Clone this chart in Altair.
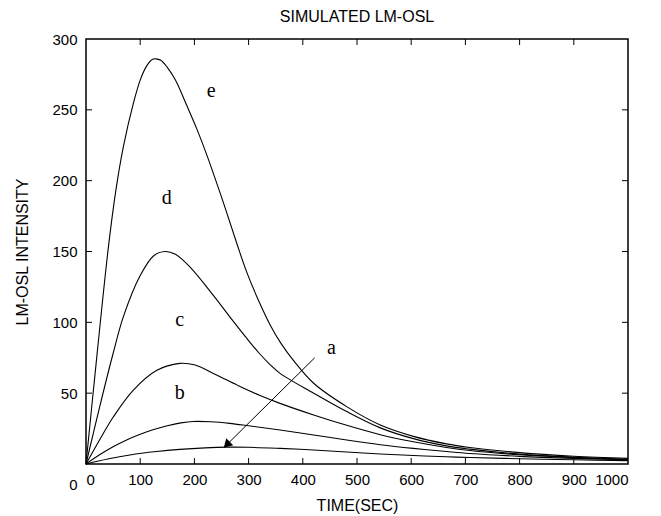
import altair as alt
import pandas as pd

# ---- data ----
e_t = [0, 20, 41, 55, 69, 87, 100, 112, 122, 129, 138, 150, 165, 186, 205, 223, 253, 278, 296, 320, 340, 360, 383, 420, 481, 543, 604, 665, 708, 800, 900, 1000]
e_y = [0, 76, 152, 193, 224, 254, 271, 281, 285.5, 286, 285, 280, 271, 253, 236, 218, 185, 156, 136, 114, 98, 85, 73, 57, 40.5, 27.5, 19.5, 14.2, 11.7, 8, 5.5, 4]

d_t = [0, 25, 50, 69, 100, 125, 146, 165, 192, 235, 265, 296, 320, 340, 358, 420, 481, 543, 604, 665, 708, 800, 900, 1000]
d_y = [0, 40, 78, 104, 133, 147, 150, 148, 139, 119, 104, 89, 78, 70, 64, 50, 37, 25.5, 17.9, 12.8, 10.5, 7, 4.8, 3.3]

c_t = [0, 25, 50, 87, 130, 173, 200, 240, 280, 320, 358, 420, 481, 543, 604, 665, 708, 800, 900, 1000]
c_y = [0, 17, 33, 52, 66, 71, 70, 63, 55.5, 48.5, 42.8, 34.6, 27.3, 20.7, 15.7, 11.7, 9.5, 6.5, 4.5, 3.2]

b_t = [0, 25, 50, 75, 100, 125, 150, 175, 198, 230, 265, 300, 358, 420, 481, 543, 604, 665, 708, 800, 900, 1000]
b_y = [0, 6.5, 12.2, 17, 21, 24.3, 27, 29, 30, 29.8, 28.7, 27, 24, 20.5, 16.9, 13.6, 11, 8.8, 7.4, 5.4, 4, 3]

a_t = [0, 40, 81, 130, 173, 220, 260, 300, 358, 420, 481, 543, 604, 665, 708, 800, 900, 1000]
a_y = [0, 3.5, 6.4, 8.8, 10.3, 11.4, 11.9, 11.8, 11, 9.9, 8.5, 7.1, 6, 5.1, 4.6, 3.7, 3, 2.4]

curve_names = ["a", "b", "c", "d", "e"]
label_x = [453, 173, 173, 149, 231]
label_y = [81.6, 50, 102, 188, 263]

arrow_from = (422, 75)
arrow_to = (256, 12.2)
arrow_head = (261.5, 14.3)

x_ticks = [100, 200, 300, 400, 500, 600, 700, 800, 900]
y_ticks = [50, 100, 150, 200, 250]
x_labels = list(range(0, 1001, 100))
y_labels = list(range(0, 301, 50))

# ---- tables ----
rows = []
for name, ts, ys in [("a", a_t, a_y), ("b", b_t, b_y), ("c", c_t, c_y), ("d", d_t, d_y), ("e", e_t, e_y)]:
    for t, y in zip(ts, ys):
        rows.append({"curve": name, "t": t, "y": y})
df = pd.DataFrame(rows)
labels = pd.DataFrame({"name": curve_names, "t": label_x, "y": label_y})
arrow = pd.DataFrame({"t": [arrow_from[0]], "y": [arrow_from[1]], "t2": [arrow_to[0]], "y2": [arrow_to[1]]})
head = pd.DataFrame({"t": [arrow_head[0]], "y": [arrow_head[1]]})
xt = pd.DataFrame({"t": x_ticks})
yt = pd.DataFrame({"y": y_ticks})

W, H = 542, 425
FONT = "Liberation Sans"

xscale = alt.Scale(domain=[0, 1000], nice=False, zero=False)
yscale = alt.Scale(domain=[0, 300], nice=False, zero=False)

xaxis = alt.Axis(title="TIME(SEC)", values=x_labels, ticks=False, format="d",
                 labelPadding=8, titlePadding=10, grid=False, domain=False)
yaxis = alt.Axis(title="LM-OSL INTENSITY", values=y_labels, ticks=False, format="d",
                 labelPadding=9, titlePadding=21, grid=False, domain=False,
                 labelOffset=alt.condition("datum.value == 0", alt.value(20), alt.value(0)))


def X(field):
    return alt.X(field, scale=xscale, axis=xaxis, title="TIME(SEC)")


def Y(field):
    return alt.Y(field, scale=yscale, axis=yaxis, title="LM-OSL INTENSITY")


lines = alt.Chart(df).mark_line(color="black", strokeWidth=1.1, interpolate="catmull-rom").encode(
    x=X("t:Q"), y=Y("y:Q"), detail="curve:N",
)

texts = alt.Chart(labels).mark_text(font="Liberation Serif", fontSize=20, color="black").encode(
    x=X("t:Q"), y=Y("y:Q"), text="name:N",
)

arrow_line = alt.Chart(arrow).mark_rule(color="black", strokeWidth=1).encode(
    x=X("t:Q"), y=Y("y:Q"), x2="t2:Q", y2="y2:Q",
)
arrow_tip = alt.Chart(head).mark_point(shape="triangle", filled=True, color="black", size=95,
                                        angle=225, opacity=1).encode(
    x=X("t:Q"), y=Y("y:Q"),
)

tick_b = alt.Chart(xt).mark_rule(color="black").encode(
    x=X("t:Q"), y=alt.value(H), y2=alt.value(H - 6))
tick_t = alt.Chart(xt).mark_rule(color="black").encode(
    x=X("t:Q"), y=alt.value(0), y2=alt.value(6))
tick_l = alt.Chart(yt).mark_rule(color="black").encode(
    y=Y("y:Q"), x=alt.value(0), x2=alt.value(6))
tick_r = alt.Chart(yt).mark_rule(color="black").encode(
    y=Y("y:Q"), x=alt.value(W), x2=alt.value(W - 6))

chart = alt.layer(lines, texts, arrow_line, arrow_tip, tick_b, tick_t, tick_l, tick_r).properties(
    width=W, height=H,
    title=alt.Title("SIMULATED LM-OSL", font=FONT, fontSize=16, fontWeight="normal", color="black", offset=7),
    autosize=alt.AutoSizeParams(type="none"),
    padding={"left": 78, "top": 31, "right": 25, "bottom": 52},
).configure_view(
    stroke="black", strokeWidth=1.5
).configure_axis(
    labelFont=FONT, labelFontSize=15, labelColor="black",
    titleFont=FONT, titleFontSize=16, titleFontWeight="normal", titleColor="black",
)

chart.save("out.html", embed_options={"renderer": "svg", "actions": False})
